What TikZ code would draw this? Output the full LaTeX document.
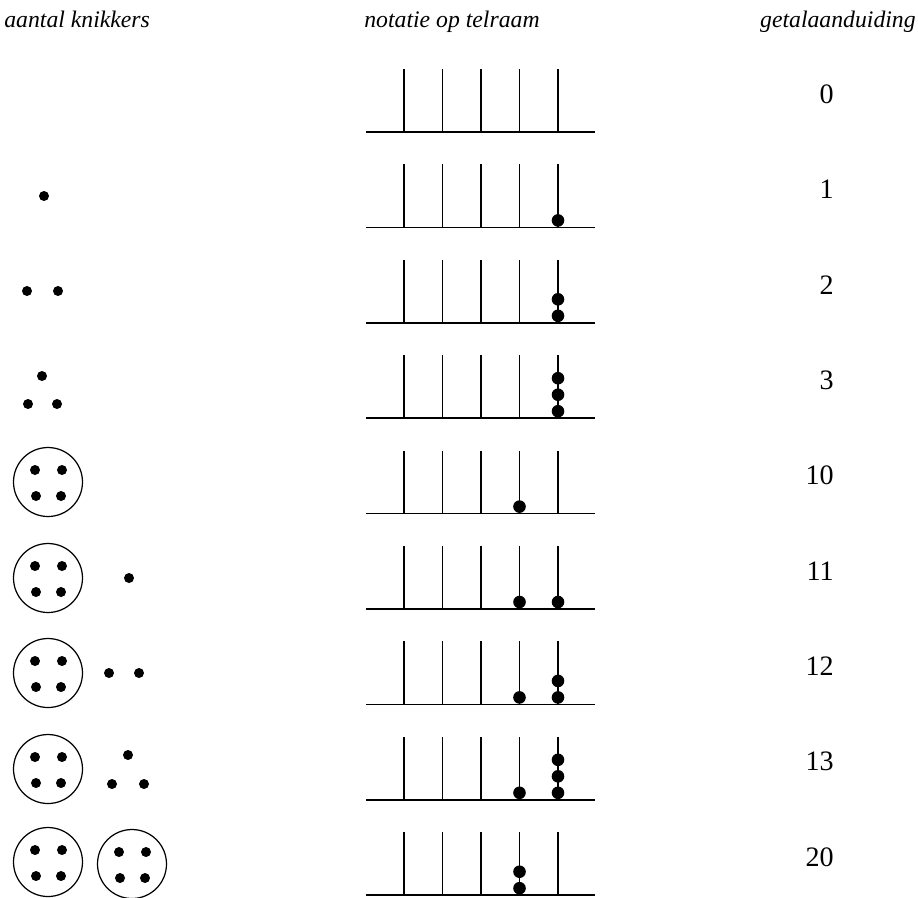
\documentclass[tikz,border=0pt]{standalone}
\usepackage{fontspec}
\setmainfont{Liberation Serif}
\usepackage{tikz}
\usetikzlibrary{positioning}

\tikzset{
  kop/.style={font=\itshape\fontsize{13.5}{16}\selectfont, anchor=base, inner sep=0pt},
  getal/.style={font=\fontsize{16}{18}\selectfont, anchor=east, inner sep=0pt},
  staaf/.style={line width=1pt},
  rand/.style={line width=0.7pt},
}

% a bag of four marbles
\newcommand{\zakje}[2]{%
  \begin{scope}[shift={(#1,#2)}]
    \draw[rand] (0,0) circle (\rz);
    \foreach \a/\b in {-13/-12,14/-12,-12/14,13/14}
      \fill (\a,\b) circle (\rk);
  \end{scope}}

\begin{document}
\begin{tikzpicture}[x=0.02cm,y=-0.02cm]
  \def\dy{95.4} % distance between rows
  \def\rk{5}    % radius of a marble
  \def\rb{6.3}  % radius of a bead
  \def\rz{34.5} % radius of a bag
  \useasboundingbox (0,0) rectangle (918,897);

  % headers
  \node[kop, anchor=base west] (hKnikkers) at (4,27) {aantal knikkers};
  \node[kop] (hTelraam) at (452,27) {notatie op telraam};
  \node[kop, anchor=base east] (hGetal) at (916,27) {getalaanduiding};

  % the abacus in each row
  \foreach \r in {0,...,8} {
    \draw[staaf] (366,132+\r*\dy) -- (595,132+\r*\dy);
    \foreach \k in {0,...,4}
      \draw[staaf] (404+\k*38.5,132+\r*\dy) -- ++(0,-63);
  }
  % beads: row/rod/count
  \foreach \r/\k/\n in {1/4/1,2/4/2,3/4/3,4/3/1,5/3/1,5/4/1,6/3/1,6/4/2,7/3/1,7/4/3,8/3/2} {
    \foreach \j in {1,...,\n}
      \fill (404+\k*38.5,132+\r*\dy-7-\j*16.5+16.5) circle (\rb);
  }

  % numbers
  \foreach \r/\g in {0/0,1/1,2/2,3/3,4/10,5/11,6/12,7/13,8/20}
    \node[getal] (g\r) at (834,132+\r*\dy-38) {\g};

  % marbles
  \fill (44,196) circle (\rk);
  \fill (27,291) circle (\rk);
  \fill (58,291) circle (\rk);
  \fill (42,376) circle (\rk);
  \fill (28,404) circle (\rk);
  \fill (57,404) circle (\rk);
  \zakje{48}{482}
  \zakje{48}{578}
  \fill (129,578) circle (\rk);
  \zakje{48}{673}
  \fill (109,673) circle (\rk);
  \fill (139,673) circle (\rk);
  \zakje{48}{769}
  \fill (128,755) circle (\rk);
  \fill (112,784) circle (\rk);
  \fill (144,784) circle (\rk);
  \zakje{48}{862}
  \zakje{132}{864}
\end{tikzpicture}
\end{document}
